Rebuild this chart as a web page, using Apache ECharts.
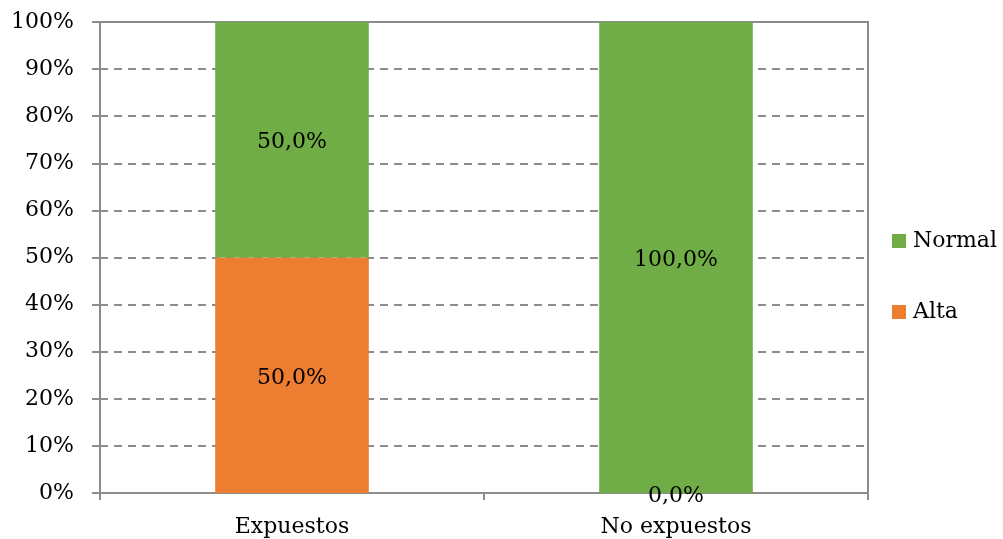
<!DOCTYPE html>
<html>
<head>
<meta charset="utf-8">
<script src="https://cdn.jsdelivr.net/npm/echarts@6/dist/echarts.min.js"></script>
<style>
  html, body { margin: 0; padding: 0; background: #ffffff; }
  #chart { width: 1003px; height: 539px; }
</style>
</head>
<body>
<div id="chart"></div>
<script>
// Groups along the category axis
const categories = ['Expuestos', 'No expuestos'];
// Share of each group (percent)
const alta = [50.0, 0.0];
const normal = [50.0, 100.0];
// Value axis ticks
const yTicks = [0, 10, 20, 30, 40, 50, 60, 70, 80, 90, 100];

const FONT = '"DejaVu Serif", "Liberation Serif", serif';
const FS = 22;
const AXIS_GREY = '#8c8c8c';

const chart = echarts.init(document.getElementById('chart'), null, { renderer: 'canvas' });

const fmtPct = v => v.toFixed(1).replace('.', ',') + '%';

chart.setOption({
  animation: false,
  textStyle: { fontFamily: FONT },
  grid: {
    left: 100, right: 135, top: 22, bottom: 46,
    show: true, borderColor: AXIS_GREY, borderWidth: 2, backgroundColor: 'transparent'
  },
  legend: {
    orient: 'vertical',
    left: 887, top: 225,
    itemWidth: 14, itemHeight: 14, itemGap: 49,
    icon: 'rect',
    data: ['Normal', 'Alta'],
    textStyle: { fontFamily: FONT, fontSize: FS, color: '#000', padding: [0, 0, 0, 2] }
  },
  xAxis: {
    type: 'category',
    data: categories,
    boundaryGap: true,
    axisLine: { lineStyle: { color: AXIS_GREY, width: 2 } },
    axisTick: { show: true, length: 7, alignWithLabel: false, lineStyle: { color: AXIS_GREY, width: 2 } },
    axisLabel: { color: '#000', fontFamily: FONT, fontSize: FS, margin: 23 }
  },
  yAxis: {
    type: 'value',
    min: yTicks[0], max: yTicks[yTicks.length - 1], interval: 10,
    axisLine: { show: true, lineStyle: { color: AXIS_GREY, width: 2 } },
    axisTick: { show: true, length: 8, lineStyle: { color: AXIS_GREY, width: 2 } },
    axisLabel: { color: '#000', fontFamily: FONT, fontSize: FS, margin: 26, formatter: v => v + '%' },
    splitLine: { show: true, lineStyle: { color: AXIS_GREY, width: 2, type: [8, 6] } }
  },
  series: [
    {
      name: 'Alta', type: 'bar', stack: 'total', data: alta,
      barWidth: '40%',
      itemStyle: { color: '#ED7D31' },
      label: { show: true, position: 'inside', offset: [0, 3], color: '#000', fontFamily: FONT, fontSize: FS,
               formatter: p => fmtPct(p.value) }
    },
    {
      name: 'Normal', type: 'bar', stack: 'total', data: normal,
      barWidth: '40%',
      itemStyle: { color: '#70AD47' },
      label: { show: true, position: 'inside', offset: [0, 3], color: '#000', fontFamily: FONT, fontSize: FS,
               formatter: p => fmtPct(p.value) }
    }
  ]
});
</script>
</body>
</html>
